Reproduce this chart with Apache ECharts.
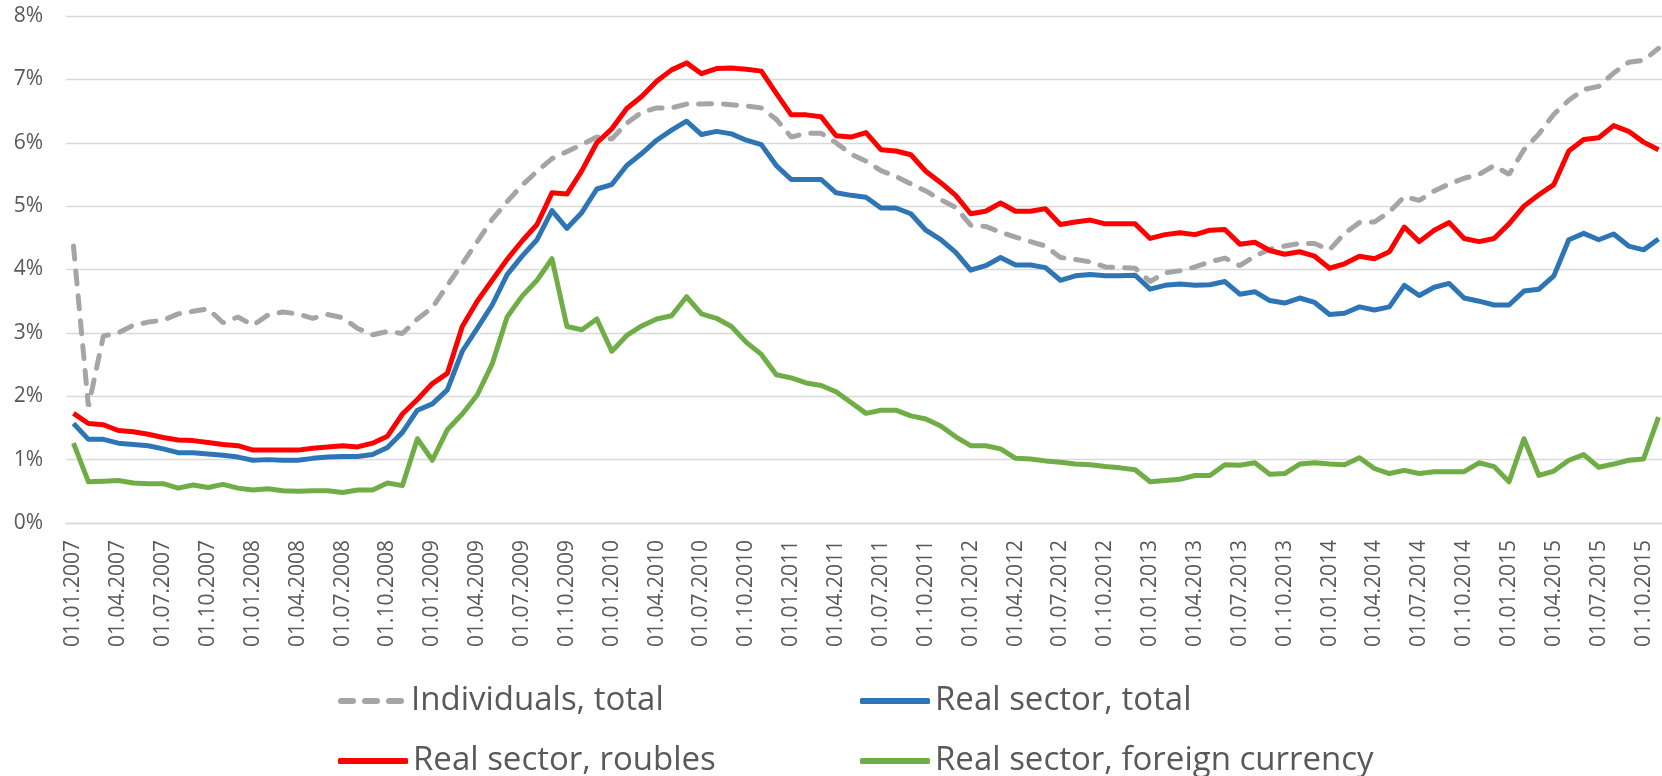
<!DOCTYPE html>
<html>
<head>
<meta charset="utf-8">
<script src="https://cdn.jsdelivr.net/npm/echarts@6/dist/echarts.min.js"></script>
<style>
  html, body { margin: 0; padding: 0; background: #fff; }
  #chart { width: 1662px; height: 776px; }
</style>
</head>
<body>
<div id="chart"></div>
<script>
// monthly points, 01.01.2007 .. 01.11.2015
var categories = [];
for (var y = 2007; y <= 2015; y++) {
  for (var m = 1; m <= 12; m++) {
    if (y === 2015 && m > 11) break;
    categories.push('01.' + (m < 10 ? '0' + m : m) + '.' + y);
  }
}

var individuals = [
  4.37, 1.84, 2.95, 3.00, 3.12, 3.17, 3.20, 3.30, 3.34, 3.38, 3.16, 3.25,
  3.12, 3.28, 3.33, 3.30, 3.23, 3.29, 3.24, 3.07, 2.97, 3.02, 2.99, 3.22,
  3.40, 3.75, 4.09, 4.44, 4.79, 5.07, 5.33, 5.55, 5.75, 5.86, 5.97, 6.09,
  6.06, 6.31, 6.48, 6.55, 6.55, 6.61, 6.61, 6.62, 6.60, 6.58, 6.55, 6.37,
  6.09, 6.15, 6.15, 6.00, 5.82, 5.71, 5.56, 5.47, 5.35, 5.24, 5.10, 4.98,
  4.70, 4.68, 4.59, 4.51, 4.44, 4.37, 4.19, 4.16, 4.12, 4.04, 4.03, 4.02,
  3.81, 3.95, 3.98, 4.04, 4.12, 4.18, 4.06, 4.21, 4.32, 4.37, 4.41, 4.41,
  4.31, 4.57, 4.74, 4.75, 4.91, 5.15, 5.09, 5.24, 5.35, 5.44, 5.50, 5.64,
  5.50, 5.89, 6.14, 6.45, 6.67, 6.84, 6.89, 7.10, 7.27, 7.30, 7.49
];

var realTotal = [
  1.57, 1.32, 1.32, 1.26, 1.24, 1.22, 1.17, 1.11, 1.11, 1.09, 1.07, 1.04,
  0.99, 1.00, 0.99, 0.99, 1.02, 1.04, 1.05, 1.05, 1.08, 1.19, 1.43, 1.78,
  1.88, 2.10, 2.71, 3.07, 3.44, 3.92, 4.21, 4.47, 4.93, 4.65, 4.90, 5.27,
  5.34, 5.64, 5.83, 6.04, 6.20, 6.34, 6.13, 6.18, 6.14, 6.04, 5.97, 5.64,
  5.42, 5.42, 5.42, 5.21, 5.17, 5.14, 4.97, 4.97, 4.88, 4.62, 4.47, 4.27,
  3.99, 4.06, 4.19, 4.07, 4.07, 4.03, 3.83, 3.90, 3.92, 3.90, 3.90, 3.91,
  3.69, 3.75, 3.77, 3.75, 3.76, 3.81, 3.61, 3.65, 3.51, 3.47, 3.55, 3.48,
  3.29, 3.31, 3.41, 3.36, 3.41, 3.75, 3.59, 3.72, 3.78, 3.55, 3.50, 3.44,
  3.44, 3.66, 3.69, 3.90, 4.47, 4.57, 4.47, 4.56, 4.37, 4.31, 4.48
];

var realRoubles = [
  1.73, 1.57, 1.55, 1.46, 1.44, 1.40, 1.35, 1.31, 1.30, 1.27, 1.24, 1.22,
  1.15, 1.15, 1.15, 1.15, 1.18, 1.20, 1.22, 1.20, 1.26, 1.37, 1.72, 1.95,
  2.20, 2.36, 3.10, 3.50, 3.83, 4.16, 4.45, 4.71, 5.21, 5.19, 5.56, 6.00,
  6.22, 6.54, 6.73, 6.97, 7.15, 7.26, 7.09, 7.17, 7.18, 7.16, 7.13, 6.78,
  6.44, 6.44, 6.41, 6.11, 6.09, 6.16, 5.89, 5.87, 5.81, 5.55, 5.37, 5.17,
  4.88, 4.92, 5.05, 4.92, 4.92, 4.96, 4.71, 4.75, 4.78, 4.72, 4.72, 4.72,
  4.49, 4.55, 4.58, 4.55, 4.62, 4.63, 4.40, 4.43, 4.30, 4.24, 4.28, 4.21,
  4.02, 4.09, 4.21, 4.17, 4.28, 4.67, 4.44, 4.62, 4.74, 4.49, 4.44, 4.49,
  4.72, 5.00, 5.18, 5.34, 5.87, 6.05, 6.08, 6.27, 6.18, 6.01, 5.89
];

var realForeign = [
  1.26, 0.65, 0.66, 0.67, 0.63, 0.62, 0.62, 0.55, 0.60, 0.56, 0.61, 0.55,
  0.52, 0.54, 0.51, 0.50, 0.51, 0.51, 0.48, 0.52, 0.52, 0.63, 0.59, 1.33,
  0.99, 1.47, 1.72, 2.02, 2.51, 3.25, 3.58, 3.83, 4.17, 3.10, 3.05, 3.22,
  2.71, 2.96, 3.11, 3.22, 3.27, 3.57, 3.30, 3.23, 3.10, 2.85, 2.66, 2.34,
  2.29, 2.21, 2.17, 2.07, 1.90, 1.73, 1.78, 1.78, 1.69, 1.64, 1.53, 1.36,
  1.22, 1.22, 1.17, 1.02, 1.01, 0.98, 0.96, 0.93, 0.92, 0.89, 0.87, 0.84,
  0.65, 0.67, 0.69, 0.75, 0.75, 0.92, 0.91, 0.95, 0.77, 0.78, 0.93, 0.95,
  0.93, 0.92, 1.03, 0.86, 0.78, 0.83, 0.78, 0.81, 0.81, 0.81, 0.95, 0.89,
  0.65, 1.33, 0.75, 0.82, 0.99, 1.08, 0.88, 0.93, 0.99, 1.01, 1.67
];

var chart = echarts.init(document.getElementById('chart'), null, { renderer: 'canvas' });

var dashIcon = 'path://M3,0H15A3,3,0,0,1,15,6H3A3,3,0,0,1,3,0Z' +
  'M27,0H39A3,3,0,0,1,39,6H27A3,3,0,0,1,27,0Z' +
  'M51,0H63A3,3,0,0,1,63,6H51A3,3,0,0,1,51,0Z';

// one legend per entry so the 2x2 layout sits exactly where the original has it
function legendItem(name, icon, left, top) {
  return {
    left: left,
    top: top,
    itemWidth: 70,
    itemHeight: 6,
    itemGap: 0,
    textStyle: {
      fontFamily: 'Open Sans',
      fontSize: 33,
      color: '#595959',
      lineHeight: 40
    },
    data: [{ name: name, icon: icon }]
  };
}

var option = {
  animation: false,
  backgroundColor: '#fff',
  color: ['#A5A5A5', '#2E75B6', '#FF0000', '#70AD47'],
  grid: {
    left: 66,
    top: 16,
    width: 1600,
    height: 507,
    containLabel: false,
    outerBoundsMode: 'none'
  },
  legend: [
    legendItem('Individuals, total', dashIcon, 333, 676),
    legendItem('Real sector, roubles', 'roundRect', 333, 736),
    legendItem('Real sector, total', 'roundRect', 855, 676),
    legendItem('Real sector, foreign currency', 'roundRect', 855, 736)
  ],
  xAxis: {
    type: 'category',
    boundaryGap: true,
    data: categories,
    axisLine: { lineStyle: { color: '#D9D9D9', width: 1.3 } },
    axisTick: { show: false },
    axisLabel: {
      interval: 2,
      rotate: 90,
      margin: 17,
      fontFamily: 'Open Sans',
      fontSize: 21,
      color: '#595959'
    }
  },
  yAxis: {
    type: 'value',
    min: 0,
    max: 8,
    interval: 1,
    axisLine: { show: false },
    axisTick: { show: false },
    splitLine: { lineStyle: { color: '#D9D9D9', width: 1.3 } },
    axisLabel: {
      formatter: '{value}%',
      margin: 23,
      fontFamily: 'Open Sans',
      fontSize: 21,
      color: '#595959'
    }
  },
  series: [{
    name: 'Individuals, total',
    type: 'line',
    symbol: 'none',
    data: individuals,
    lineStyle: { width: 5, type: [13, 12], cap: 'round', color: '#A5A5A5' },
    z: 2
  }, {
    name: 'Real sector, total',
    type: 'line',
    symbol: 'none',
    data: realTotal,
    lineStyle: { width: 5, color: '#2E75B6', join: 'round' },
    z: 3
  }, {
    name: 'Real sector, roubles',
    type: 'line',
    symbol: 'none',
    data: realRoubles,
    lineStyle: { width: 5, color: '#FF0000', join: 'round' },
    z: 4
  }, {
    name: 'Real sector, foreign currency',
    type: 'line',
    symbol: 'none',
    data: realForeign,
    lineStyle: { width: 5, color: '#70AD47', join: 'round' },
    z: 5
  }]
};

chart.setOption(option);
</script>
</body>
</html>
